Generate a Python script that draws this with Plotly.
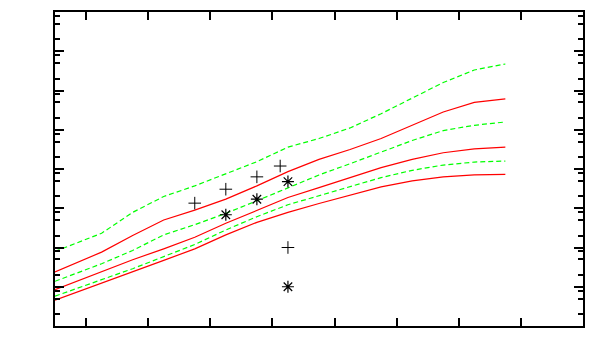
import numpy as np
import plotly.graph_objects as go

# x positions (in tick units) of the model curves
x_curve = [-0.5, -0.25, 0.25, 0.75, 1.25, 1.75, 2.25, 2.75, 3.25, 3.75,
           4.25, 4.75, 5.25, 5.75, 6.25, 6.75]

# log10 of curve values
green_top_log = [1.899, 2.051, 2.363, 2.895, 3.300, 3.570, 3.882, 4.186, 4.557,
                 4.776, 5.046, 5.409, 5.806, 6.203, 6.523, 6.675]
red_top_log = [1.376, 1.544, 1.882, 2.304, 2.700, 2.954, 3.232, 3.570, 3.932,
               4.245, 4.498, 4.776, 5.114, 5.451, 5.696, 5.789]
green_mid_log = [1.139, 1.291, 1.586, 1.924, 2.321, 2.582, 2.869, 3.190, 3.527,
                 3.848, 4.135, 4.430, 4.726, 4.979, 5.114, 5.198]
red_mid_log = [0.928, 1.080, 1.376, 1.688, 1.966, 2.262, 2.616, 2.954, 3.274,
               3.527, 3.781, 4.034, 4.245, 4.414, 4.515, 4.557]
green_bot_log = [0.759, 0.895, 1.181, 1.460, 1.772, 2.076, 2.447, 2.785, 3.089,
                 3.316, 3.544, 3.781, 3.966, 4.101, 4.177, 4.203]
red_bot_log = [0.658, 0.802, 1.080, 1.376, 1.671, 1.966, 2.321, 2.641, 2.895,
               3.122, 3.342, 3.544, 3.696, 3.797, 3.848, 3.865]

# observed points
plus_x = [1.75, 2.25, 2.75, 3.125, 3.25]
plus_log = [3.13, 3.485, 3.80, 4.076, 2.0]
star_x = [2.25, 2.75, 3.25, 3.25]
star_log = [2.835, 3.23, 3.68, 1.0]

x_ticks = [0, 1, 2, 3, 4, 5, 6, 7, 8]
decades = list(range(0, 9))
minor_mult = [2, 5, 8]


def lin(v):
    return np.power(10.0, np.array(v))


fig = go.Figure()

curves = [
    (green_top_log, "#00ff00", "5px,3px"),
    (red_top_log, "#ff0000", "solid"),
    (green_mid_log, "#00ff00", "5px,3px"),
    (red_mid_log, "#ff0000", "solid"),
    (green_bot_log, "#00ff00", "5px,3px"),
    (red_bot_log, "#ff0000", "solid"),
]
for ys, col, dash in curves:
    fig.add_trace(go.Scatter(x=x_curve, y=lin(ys), mode="lines",
                             line=dict(color=col, width=1.2, dash=dash),
                             showlegend=False, hoverinfo="skip"))

fig.add_trace(go.Scatter(x=plus_x, y=lin(plus_log), mode="markers",
                         marker=dict(symbol="cross-thin-open", size=9,
                                     color="black",
                                     line=dict(color="black", width=1)),
                         showlegend=False))
fig.add_trace(go.Scatter(x=star_x, y=lin(star_log), mode="markers",
                         marker=dict(symbol="asterisk-open", size=10,
                                     color="black",
                                     line=dict(color="black", width=1.2)),
                         showlegend=False))

major_vals = [10.0 ** d for d in decades]
minor_vals = [m * 10.0 ** d for d in decades[:-1] for m in minor_mult]

fig.update_layout(
    width=600, height=360,
    margin=dict(l=47, r=25, t=2, b=42),
    paper_bgcolor="white", plot_bgcolor="white",
    xaxis=dict(range=[-0.5, 8], tickmode="array", tickvals=x_ticks,
               showticklabels=False, ticks="inside", ticklen=8, tickwidth=1.5,
               tickcolor="black", showline=True, linecolor="black",
               linewidth=2, mirror="ticks", showgrid=False, zeroline=False),
    yaxis=dict(type="log", range=[0, 8], tickmode="array", tickvals=major_vals,
               showticklabels=False, ticks="inside", ticklen=9, tickwidth=1.5,
               tickcolor="black", showline=True, linecolor="black",
               linewidth=2, mirror="ticks", showgrid=False, zeroline=False,
               minor=dict(tickmode="array", tickvals=minor_vals, ticks="inside",
                          ticklen=5, tickwidth=1.5, tickcolor="black",
                          showgrid=False)),
)

fig.write_html("out.html")
